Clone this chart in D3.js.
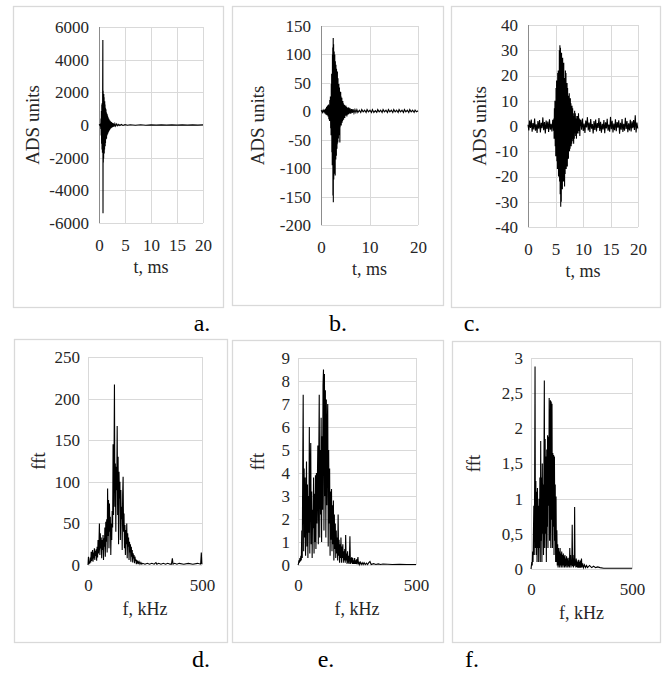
<!DOCTYPE html>
<html>
<head>
<meta charset="utf-8">
<script src="https://cdn.jsdelivr.net/npm/d3@7"></script>
<style>
  body { margin:0; background:#fff; }
</style>
</head>
<body>
<div id="chart"></div>
<script>
// signals: [t (ms), ADS units]
const sigA = [[0,0],[0.1,20],[0.2,-30],[0.3,60],[0.34,-250],[0.38,400],[0.42,-650],[0.46,850],[0.5,-1150],[0.54,1250],[0.58,-1500],[0.62,1350],[0.66,-1700],[0.7,1950],[0.74,5200],[0.77,-5400],[0.8,2100],[0.83,-2300],[0.86,1800],[0.89,-2050],[0.92,1900],[0.95,-1650],[0.98,1700],[1.01,-1750],[1.04,1350],[1.07,-1500],[1.1,1450],[1.13,-1200],[1.16,1250],[1.19,-1300],[1.22,1050],[1.25,-1100],[1.28,1000],[1.31,-880],[1.34,950],[1.37,-850],[1.41,780],[1.45,-820],[1.49,700],[1.53,-640],[1.57,660],[1.61,-580],[1.65,560],[1.7,-520],[1.75,470],[1.8,-450],[1.85,400],[1.9,-380],[1.96,340],[2.02,-320],[2.08,280],[2.15,-260],[2.22,220],[2.3,-200],[2.38,180],[2.47,-160],[2.56,140],[2.66,-120],[2.77,105],[2.9,-95],[3.05,80],[3.2,-70],[3.4,60],[3.6,-50],[3.8,40],[4.0,-35],[4.3,30],[4.6,-25],[5.0,20],[5.5,-18],[6,15],[7,-14],[8,12],[9,-12],[10,10],[11,-10],[12,10],[13,-9],[14,9],[15,-8],[16,8],[17,-8],[18,7],[19,-7],[20,6]];

const sigB = [[0,0],[0.15,1],[0.3,-2],[0.45,2],[0.6,-1],[0.75,3],[0.85,-4],[0.95,5],[1.05,-6],[1.15,8],[1.25,-7],[1.35,10],[1.45,-9],[1.55,12],[1.62,-14],[1.7,10],[1.76,-17],[1.82,20],[1.88,-15],[1.94,26],[2.0,-30],[2.04,22],[2.08,-42],[2.12,48],[2.16,-38],[2.2,66],[2.24,-72],[2.28,58],[2.32,-95],[2.36,100],[2.4,-80],[2.43,112],[2.46,-148],[2.49,90],[2.52,129],[2.54,-160],[2.57,70],[2.6,118],[2.63,-120],[2.66,95],[2.69,-88],[2.72,105],[2.75,-110],[2.78,80],[2.81,-70],[2.84,100],[2.87,-90],[2.9,60],[2.93,-113],[2.96,88],[2.99,-75],[3.02,70],[3.05,-85],[3.08,82],[3.11,-60],[3.14,65],[3.17,-78],[3.2,75],[3.23,-50],[3.26,68],[3.29,-66],[3.32,55],[3.35,-58],[3.38,70],[3.41,-45],[3.44,50],[3.47,-55],[3.5,58],[3.53,-40],[3.56,45],[3.59,-48],[3.62,40],[3.65,-35],[3.68,48],[3.71,-38],[3.74,32],[3.77,-42],[3.8,42],[3.83,-30],[3.86,28],[3.89,-55],[3.92,35],[3.95,-28],[3.98,30],[4.02,-24],[4.06,34],[4.1,-22],[4.14,26],[4.18,-25],[4.22,20],[4.26,-18],[4.3,24],[4.35,-20],[4.4,16],[4.45,-17],[4.5,18],[4.55,-13],[4.6,14],[4.66,-15],[4.72,12],[4.78,-10],[4.84,11],[4.9,-12],[4.97,9],[5.04,-8],[5.11,10],[5.18,-7],[5.25,8],[5.33,-9],[5.41,6],[5.5,-6],[5.6,7],[5.7,-5],[5.8,6],[5.9,-4],[6.0,5],[6.15,-4],[6.3,4],[6.45,-3],[6.6,4],[6.8,-3],[7.0,3],[7.2,-2],[7.4,3],[7.6,-2],[7.9,2],[8.2,-2],[8.4,3],[8.7,-1],[9.0,2],[9.3,-2],[9.5,3],[9.8,-1],[10.1,2],[10.4,-2],[10.6,3],[10.9,-2],[11.2,1],[11.5,-2],[11.7,3],[12.0,-1],[12.3,2],[12.6,-2],[12.8,3],[13.1,-1],[13.4,2],[13.7,-2],[13.9,3],[14.2,-1],[14.5,2],[14.8,-2],[15.0,3],[15.3,-1],[15.6,2],[15.9,-2],[16.1,3],[16.4,-1],[16.7,2],[17.0,-2],[17.2,3],[17.5,-1],[17.8,2],[18.1,-2],[18.3,3],[18.6,-1],[18.9,2],[19.2,-2],[19.4,2],[19.7,-1],[20,1]];

const sigC = [[0,0.5],[0.15,-1.8],[0.3,2.2],[0.45,-0.8],[0.6,2.6],[0.75,-2.3],[0.9,1.2],[1.05,-1.4],[1.2,3],[1.35,-1.9],[1.5,0.7],[1.65,-2.8],[1.8,2],[1.95,-1.1],[2.1,2.4],[2.25,-2.6],[2.4,1.3],[2.55,-0.9],[2.7,3.4],[2.85,-1.7],[3,1.6],[3.15,-3],[3.3,2.2],[3.45,-1.2],[3.6,1.8],[3.75,-2.4],[3.9,2.7],[4.05,-1.5],[4.2,0.9],[4.35,-2.2],[4.5,2.5],[4.65,-1.9],
  [4.7,3],[4.75,-5],[4.8,7],[4.85,-4],[4.9,10],[4.95,-8],[5.0,8],[5.05,-12],[5.1,15],[5.15,-9],[5.2,18],[5.25,-14],[5.3,13],[5.35,-17],[5.4,21],[5.45,-13],[5.5,22],[5.55,-20],[5.6,18],[5.65,-16],[5.7,30],[5.75,-22],[5.8,32],[5.85,-27],[5.9,31],[5.95,-32],[6.0,24],[6.05,-30],[6.1,29],[6.15,-18],[6.2,26],[6.25,-25],[6.3,27],[6.35,-15],[6.4,21],[6.45,-22],[6.5,25],[6.55,-14],[6.6,19],[6.65,-24],[6.7,16],[6.75,-19],[6.8,22],[6.85,-12],[6.9,21],[6.95,-17],[7.0,14],[7.05,-11],[7.1,17],[7.15,-16],[7.2,15],[7.25,-9],[7.3,12],[7.35,-13],[7.4,10],[7.45,-8],[7.5,13],[7.55,-10],[7.6,8],[7.65,-9],[7.7,11],[7.75,-6],[7.8,9],[7.85,-8],[7.9,6],[7.95,-7],[8.0,8],[8.06,-5],[8.12,7],[8.18,-6],[8.24,5],[8.3,-7],[8.36,4],[8.42,-5],[8.48,6],[8.54,-3],[8.6,5],[8.67,-4],[8.74,3],[8.81,-5],[8.88,4],[8.95,-3],[9.02,4],[9.1,-3],[9.18,5],[9.26,-2],[9.34,3],[9.42,-4],[9.5,2],
  [9.6,2.5],[9.75,-1.5],[9.9,3],[10.05,-2],[10.2,1],[10.35,-2.8],[10.5,2.2],[10.65,-0.6],[10.8,3.5],[10.95,-1.8],[11.1,1.4],[11.25,-2.4],[11.4,2.8],[11.55,-1.1],[11.7,0.8],[11.85,-3],[12,2],[12.15,-1.6],[12.3,2.6],[12.45,-2.2],[12.6,1.2],[12.75,-0.8],[12.9,3.2],[13.05,-2],[13.2,1.7],[13.35,-2.7],[13.5,0.9],[13.65,-1.4],[13.8,2.4],[13.95,-2.9],[14.1,1.5],[14.25,-1],[14.4,2.9],[14.55,-1.9],[14.7,0.6],[14.85,-2.3],[15,3.6],[15.15,-1.3],[15.3,2.1],[15.45,-2.6],[15.6,1],[15.75,-1.7],[15.9,2.7],[16.05,-2.1],[16.2,1.6],[16.35,-0.7],[16.5,2.3],[16.65,-3.1],[16.8,1.3],[16.95,-1.5],[17.1,2.8],[17.25,-2.4],[17.4,0.9],[17.55,-1.9],[17.7,3.3],[17.85,-1.2],[18,2],[18.15,-2.5],[18.3,1.1],[18.45,-1.8],[18.6,2.5],[18.75,-2.2],[18.9,1.9],[19.05,-0.9],[19.2,2.4],[19.35,-1.6],[19.5,4.2],[19.65,-2.6],[19.8,1.4],[19.95,-1]];

// spectra: [f (kHz), fft]
const fftD = [[0,0],[2,10],[4,1],[6,4],[8,2],[10,9],[12,3],[14,16],[16,5],[18,12],[20,18],[22,4],[24,15],[26,8],[28,20],[30,6],[32,17],[34,11],[36,19],[38,5],[40,22],[42,9],[44,30],[46,14],[48,25],[50,50],[52,12],[54,38],[56,20],[58,33],[60,8],[62,30],[64,18],[66,36],[68,6],[70,32],[72,22],[74,45],[76,10],[78,52],[80,28],[82,55],[84,15],[86,92],[88,35],[90,78],[92,20],[94,74],[96,40],[98,58],[100,12],[102,50],[104,30],[106,65],[108,45],[110,145],[112,60],[114,120],[116,217],[118,70],[120,122],[122,40],[124,118],[126,90],[128,167],[130,60],[132,130],[134,25],[136,112],[138,80],[140,100],[142,30],[144,90],[146,55],[148,70],[150,18],[152,85],[154,106],[156,40],[158,62],[160,20],[162,48],[164,12],[166,42],[168,25],[170,50],[172,8],[174,38],[176,22],[178,33],[180,6],[182,28],[184,15],[186,25],[188,4],[190,22],[192,10],[194,18],[196,3],[198,14],[200,8],[202,12],[204,2],[206,10],[208,5],[210,7],[212,1],[214,6],[216,2],[218,5],[220,1],[224,4],[228,1],[232,3],[236,1],[240,2],[250,1],[260,2],[270,1],[280,2],[290,1],[298,3],[302,1],[310,2],[320,1],[330,2],[340,1],[350,2],[360,1],[366,1],[370,8],[373,1],[380,2],[390,1],[400,2],[420,1],[440,2],[460,1],[480,2],[494,1],[497,15],[499,2],[500,1]];

const fftE = [[0,0],[2,0.05],[4,0.2],[6,0.1],[8,0.3],[10,0.15],[12,0.4],[14,0.2],[16,1.5],[18,0.3],[20,4.1],[22,7.4],[24,0.6],[26,4.2],[28,1.2],[30,3.8],[32,0.4],[34,2.6],[36,4.5],[38,0.8],[40,3.5],[42,0.3],[44,3.0],[46,1.4],[48,6.0],[50,0.5],[52,4.0],[54,5.3],[56,0.9],[58,3.2],[60,0.3],[62,2.4],[64,1.6],[66,3.8],[68,0.5],[70,3.1],[72,1.0],[74,3.9],[76,0.7],[78,4.0],[80,1.8],[82,3.6],[84,5.2],[86,0.9],[88,4.6],[90,7.4],[92,1.2],[94,5.0],[96,2.2],[98,6.4],[100,1.0],[102,5.6],[104,2.4],[106,7.8],[108,8.5],[110,1.5],[112,8.3],[114,3.0],[116,7.6],[118,1.2],[120,7.2],[122,2.6],[124,6.1],[126,7.0],[128,0.8],[130,5.0],[132,1.8],[134,4.2],[136,0.4],[138,3.2],[140,1.1],[142,3.3],[144,0.6],[146,2.6],[148,0.9],[150,2.8],[152,0.2],[154,2.2],[156,0.7],[158,1.8],[160,0.3],[162,1.5],[164,0.5],[166,1.2],[168,0.2],[170,2.2],[172,0.4],[174,1.1],[176,0.1],[178,0.9],[180,0.3],[182,1.2],[184,0.1],[186,0.8],[188,0.3],[190,0.9],[192,0.1],[194,0.6],[196,0.2],[198,0.7],[200,0.1],[202,1.3],[204,0.2],[206,0.5],[208,0.05],[210,0.6],[212,0.1],[214,0.4],[216,0.05],[218,0.3],[220,1.25],[222,0.05],[224,0.3],[226,0.1],[228,0.35],[230,0.05],[232,0.3],[234,0.05],[236,0.2],[238,0.05],[240,0.3],[242,0.05],[244,0.2],[246,0.05],[248,0.25],[250,0.03],[252,0.2],[254,0.35],[256,0.03],[258,0.15],[260,0.02],[264,0.12],[268,0.02],[272,0.1],[276,0.02],[280,0.1],[285,0.02],[290,0.08],[295,0.02],[300,0.1],[305,0.15],[310,0.02],[320,0.06],[330,0.02],[340,0.05],[350,0.02],[360,0.04],[380,0.03],[400,0.02],[430,0.03],[460,0.02],[500,0.02]];

const fftF = [[0,0],[2,0.05],[4,0.1],[6,0.05],[8,0.25],[10,0.1],[12,0.5],[14,0.9],[16,0.2],[18,1.2],[20,2.88],[22,0.3],[24,1.25],[26,0.2],[28,1.1],[30,0.1],[32,1.15],[34,0.3],[36,0.9],[38,0.1],[40,1.0],[42,0.3],[44,1.3],[46,0.1],[48,1.82],[50,0.4],[52,1.3],[54,0.1],[56,1.5],[58,0.5],[60,1.2],[62,0.2],[64,1.4],[66,2.68],[68,0.3],[70,1.85],[72,0.5],[74,1.6],[76,0.1],[78,1.7],[80,0.6],[82,1.9],[84,0.3],[86,1.88],[88,0.9],[90,2.43],[92,0.4],[94,1.5],[96,2.4],[98,0.3],[100,2.38],[102,0.7],[104,2.35],[106,0.3],[108,1.65],[110,0.6],[112,1.62],[114,0.2],[116,1.6],[118,0.4],[120,1.2],[122,0.1],[124,1.03],[126,0.1],[128,0.55],[130,0.05],[132,0.35],[134,0.02],[136,0.3],[138,0.05],[140,0.25],[142,0.02],[144,0.3],[146,0.05],[148,0.22],[150,0.02],[152,0.25],[154,0.05],[156,0.2],[158,0.02],[160,0.22],[162,0.05],[164,0.18],[166,0.02],[168,0.2],[170,0.04],[172,0.15],[174,0.02],[176,0.18],[178,0.05],[180,0.15],[182,0.02],[184,0.16],[186,0.04],[188,0.12],[190,0.02],[192,0.3],[194,0.05],[196,0.2],[198,0.02],[200,0.12],[202,0.05],[204,0.63],[206,0.04],[208,0.15],[210,0.02],[212,0.2],[214,0.04],[216,0.88],[218,0.05],[220,0.12],[222,0.02],[224,0.15],[226,0.03],[228,0.12],[230,0.02],[232,0.1],[234,0.02],[236,0.13],[238,0.02],[240,0.1],[242,0.02],[244,0.12],[246,0.02],[248,0.08],[250,0.15],[252,0.02],[256,0.08],[260,0.02],[265,0.06],[270,0.02],[275,0.05],[280,0.02],[290,0.05],[300,0.02],[310,0.04],[320,0.02],[330,0.03],[342,0.02],[360,0.01],[400,0.01],[450,0.01],[500,0.01]];

// tick labels
const ticksA_y = [-6000,-4000,-2000,0,2000,4000,6000];
const ticksB_y = [-200,-150,-100,-50,0,50,100,150];
const ticksC_y = [-40,-30,-20,-10,0,10,20,30,40];
const ticksT_a = [0,5,10,15,20];
const ticksT_b = [0,10,20];
const ticksD_y = [0,50,100,150,200,250];
const ticksE_y = [0,1,2,3,4,5,6,7,8,9];
const ticksF_y = [0,0.5,1,1.5,2,2.5,3];
const ticksFreq = [0,500];

const FONT = "'Liberation Serif'";
const W = 664, H = 673;
const svg = d3.select("#chart").append("svg")
    .attr("width", W).attr("height", H);
svg.append("rect").attr("width", W).attr("height", H).attr("fill", "#fff");

const comma = d => String(d).replace(".", ",");

// layout of the six panels (frame box, plot box, label positions)
const panels = [
  {frame:[13,6,223,307], plot:[99,27,203,223], data:sigA, xDom:[0,20], yDom:[-6000,6000], xt:ticksT_a, yt:ticksA_y,
   xTitle:"t, ms", yTitle:"ADS units", yTitleX:32, label:"a.", labelX:202, labelY:331, top:true},
  {frame:[232,6,443,305], plot:[321,26,418,225], data:sigB, xDom:[0,20], yDom:[-200,150], xt:ticksT_b, yt:ticksB_y,
   xTitle:"t, ms", yTitle:"ADS units", yTitleX:257, label:"b.", labelX:338, labelY:331, top:true},
  {frame:[451,6,660,307], plot:[528,25,638,227], data:sigC, xDom:[0,20], yDom:[-40,40], xt:ticksT_a, yt:ticksC_y,
   xTitle:"t, ms", yTitle:"ADS units", yTitleX:479, label:"c.", labelX:472, labelY:331, top:true},
  {frame:[14,339,227,642], plot:[88,357,202,565], data:fftD, xDom:[0,500], yDom:[0,250], xt:ticksFreq, yt:ticksD_y,
   xTitle:"f, kHz", yTitle:"fft", yTitleX:38, label:"d.", labelX:201, labelY:667, top:false},
  {frame:[232,340,443,642], plot:[298,358,416,565], data:fftE, xDom:[0,500], yDom:[0,9], xt:ticksFreq, yt:ticksE_y,
   xTitle:"f, kHz", yTitle:"fft", yTitleX:257, label:"e.", labelX:326, labelY:667, top:false},
  {frame:[452,341,660,642], plot:[531,358,632,569], data:fftF, xDom:[0,500], yDom:[0,3], xt:ticksFreq, yt:ticksF_y,
   xTitle:"f, kHz", yTitle:"fft", yTitleX:473, label:"f.", labelX:472, labelY:667, top:false, fmt:comma}
];

panels.forEach(function(p) {
  const [fx0, fy0, fx1, fy1] = p.frame;
  const [px0, py0, px1, py1] = p.plot;

  svg.append("rect")
    .attr("x", fx0 + 0.5).attr("y", fy0 + 0.5)
    .attr("width", fx1 - fx0).attr("height", fy1 - fy0)
    .attr("fill", "#fff").attr("stroke", "#d9d9d9").attr("stroke-width", 1.3);

  const x = d3.scaleLinear().domain(p.xDom).range([px0, px1]);
  const y = d3.scaleLinear().domain(p.yDom).range([py1, py0]);
  const fmt = p.fmt || (d => String(d));

  // horizontal grid + y labels
  const gy = svg.append("g")
    .attr("transform", "translate(" + px0 + ",0)")
    .call(d3.axisLeft(y).tickValues(p.yt).tickFormat(fmt)
      .tickSizeInner(-(px1 - px0)).tickSizeOuter(0).tickPadding(p.top ? 10 : 8));
  gy.select(".domain").remove();
  gy.selectAll("line").attr("stroke", "#d9d9d9").attr("shape-rendering", "crispEdges");
  gy.selectAll("text")
    .style("font-family", FONT).style("font-size", "17px").attr("fill", "#262626");

  // vertical grid + x labels
  const gx = svg.append("g")
    .attr("transform", "translate(0," + py1 + ")")
    .call(d3.axisBottom(x).tickValues(p.xt)
      .tickSizeInner(-(py1 - py0)).tickSizeOuter(0).tickPadding(p.top ? 16 : 14));
  gx.select(".domain").remove();
  gx.selectAll("line").attr("stroke", "#d9d9d9").attr("shape-rendering", "crispEdges");
  gx.selectAll("text")
    .style("font-family", FONT).style("font-size", "17px").attr("fill", "#262626");

  // vertical axis line
  svg.append("line")
    .attr("x1", px0).attr("x2", px0).attr("y1", py0).attr("y2", py1)
    .attr("stroke", p.top ? "#8c8c8c" : "#d9d9d9").attr("stroke-width", 1)
    .attr("shape-rendering", "crispEdges");

  // signal
  const line = d3.line().x(d => x(d[0])).y(d => y(d[1]));
  svg.append("path")
    .datum(p.data)
    .attr("d", line)
    .attr("fill", "none")
    .attr("stroke", "#000")
    .attr("stroke-width", 1.1);

  // axis titles
  svg.append("text")
    .attr("x", (px0 + px1) / 2)
    .attr("y", py1 + 50)
    .attr("text-anchor", "middle")
    .style("font-family", FONT).style("font-size", "18px")
    .attr("fill", "#262626")
    .text(p.xTitle);

  svg.append("text")
    .attr("transform", "translate(" + p.yTitleX + "," + ((py0 + py1) / 2) + ") rotate(-90)")
    .attr("dy", "0.35em")
    .attr("text-anchor", "middle")
    .style("font-family", FONT).style("font-size", "19px")
    .attr("fill", "#262626")
    .text(p.yTitle);

  // panel letter
  svg.append("text")
    .attr("x", p.labelX).attr("y", p.labelY)
    .attr("text-anchor", "middle")
    .style("font-family", FONT).style("font-size", "24px")
    .attr("fill", "#000")
    .text(p.label);
});
</script>
</body>
</html>
